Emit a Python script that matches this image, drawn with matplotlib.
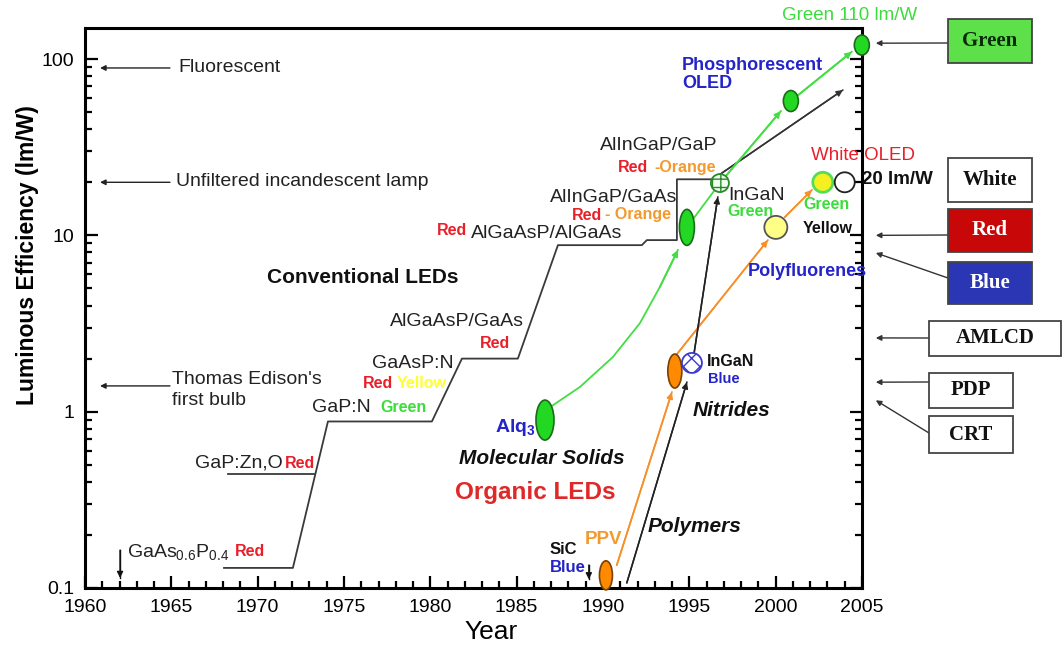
import matplotlib
matplotlib.use("Agg")
import matplotlib.pyplot as plt
import matplotlib.transforms as mtransforms
from matplotlib.patches import Ellipse, Rectangle
from matplotlib.ticker import MultipleLocator, LogLocator, FixedLocator, FixedFormatter, NullFormatter

plt.rcParams['font.family'] = ['Liberation Sans', 'DejaVu Sans']
plt.rcParams['mathtext.fontset'] = 'custom'
plt.rcParams['mathtext.rm'] = 'Liberation Sans'
plt.rcParams['mathtext.bf'] = 'Liberation Sans:bold'
plt.rcParams['hatch.linewidth'] = 1.0

# ---- data (year, luminous efficiency lm/W) ----
# conventional LED step line
led_year = [1968.05, 1972.04, 1974.07, 1980.09, 1981.83, 1985.07, 1987.39,
            1992.25, 1992.54, 1994.28, 1994.28, 1996.36]
led_eff = [0.13, 0.13, 0.88, 0.88, 2.0, 2.0, 8.8, 8.8, 9.4, 9.4, 20.8, 20.8]
gapzn_year = [1968.28, 1973.26]
gapzn_eff = [0.443, 0.443]
trend_year = [1996.36, 2003.89]
trend_eff = [20.8, 66.7]

# Alq3 molecular OLED curve
alq_year = [1986.93, 1988.66, 1990.57, 1992.14, 1993.29, 1994.34]
alq_eff = [1.06, 1.38, 2.04, 3.18, 5.09, 8.26]

# green line (solid state / phosphorescent)
green1_year = [1994.86, 1996.77, 2000.3]
green1_eff = [11.1, 19.8, 50.7]
green2_year = [2000.88, 2004.41]
green2_eff = [57.8, 110]

# polymers (orange)
ppv1_year = [1990.8, 1993.99]
ppv1_eff = [0.135, 1.29]
ppv2_year = [1994.28, 1999.55]
ppv2_eff = [2.12, 9.4]
ppv3_year = [2000.53, 2002.1]
ppv3_eff = [12.7, 18.1]

# nitrides (black)
nit1_year = [1991.38, 1994.86]
nit1_eff = [0.107, 1.47]
nit2_year = [1995.26, 1996.65]
nit2_eff = [2.10, 16.5]

sic_year = [1989.18, 1989.18]
sic_eff = [0.135, 0.112]
gaas_year = [1962.03, 1962.03]
gaas_eff = [0.164, 0.114]

# reference light sources on the left
ref_labels = ["Fluorescent", "Unfiltered incandescent lamp", "Thomas Edison's\nfirst bulb"]
ref_eff = [89, 20, 1.4]

# device marks
blob_year = [1986.64, 1994.86, 1996.77, 2000.88, 2004.99, 1990.17, 1994.16,
             1995.15, 2000.01, 2002.73, 2004.0]
blob_eff = [0.896, 11.1, 19.8, 57.8, 120, 0.118, 1.70, 1.89, 11.1, 20.0, 20.0]

# display technologies on the right
disp_labels = ["Green", "White", "Red", "Blue", "AMLCD", "PDP", "CRT"]
disp_eff = [123, None, 10.0, 7.95, 2.62, 1.47, 1.16]

x_ticks = [1960, 1965, 1970, 1975, 1980, 1985, 1990, 1995, 2000, 2005]
y_ticks = [0.1, 1, 10, 100]
y_ticklabels = ["0.1", "1", "10", "100"]

# ---- colours ----
RED = '#e8202a'
ORANGE = '#f39a2e'
GREEN_T = '#3ddc3d'
YELLOW = '#ffff30'
BLUE = '#2424c8'
LGREEN = '#44dd44'
LORANGE = '#f5902a'

W, H = 1063, 649
fig = plt.figure(figsize=(W / 100, H / 100), dpi=100)
ax = fig.add_axes([85 / W, 1 - 588 / H, 777 / W, 560 / H])
ax.set_yscale('log')
ax.set_xlim(1960, 2005)
ax.set_ylim(0.1, 150)


def px(x, y):
    return (x / W, 1 - y / H)


def arrow_line(xs, ys, color, lw=1.2, head=True):
    ax.plot(xs, ys, color=color, lw=lw, zorder=3, clip_on=False)
    if head:
        ax.annotate('', xy=(xs[-1], ys[-1]), xytext=(xs[-2], ys[-2]),
                    arrowprops=dict(arrowstyle='-|>', color=color, lw=lw,
                                    shrinkA=0, shrinkB=0, mutation_scale=9),
                    annotation_clip=False, zorder=3)


def blob(x, y, w, h, fc, ec, lw=1.2, hatch=None):
    tr = fig.dpi_scale_trans + mtransforms.ScaledTranslation(x, y, ax.transData)
    e = Ellipse((0, 0), w / 100, h / 100, transform=tr, facecolor=fc,
                edgecolor=ec, lw=lw, hatch=hatch, clip_on=False, zorder=5)
    ax.add_patch(e)


# step line
ax.plot(led_year, led_eff, color='#3a3a3a', lw=1.3, zorder=3)
ax.plot(gapzn_year, gapzn_eff, color='#3a3a3a', lw=1.3, zorder=3)
arrow_line(trend_year, trend_eff, '#333333', lw=1.1)

arrow_line(alq_year, alq_eff, LGREEN, lw=1.3)
arrow_line(green1_year, green1_eff, LGREEN, lw=1.3)
arrow_line(green2_year, green2_eff, LGREEN, lw=1.3)
arrow_line(ppv1_year, ppv1_eff, LORANGE, lw=1.2)
arrow_line(ppv2_year, ppv2_eff, LORANGE, lw=1.2)
arrow_line(ppv3_year, ppv3_eff, LORANGE, lw=1.2)
arrow_line(nit1_year, nit1_eff, '#222222', lw=1.1)
arrow_line(nit2_year, nit2_eff, '#222222', lw=1.1)
arrow_line(sic_year, sic_eff, '#111111', lw=1.0)
arrow_line(gaas_year, gaas_eff, '#111111', lw=1.0)

for v in ref_eff:
    ax.annotate('', xy=(1960.87, v), xytext=(1964.92, v),
                arrowprops=dict(arrowstyle='-|>', color='#222222', lw=1.0,
                                shrinkA=0, shrinkB=0, mutation_scale=8))

# blobs: (w, h, face, edge, lw, hatch)
blob_style = [
    (18, 40, '#22d822', '#1a6b1a', 1.2, None),
    (15, 36, '#22d822', '#1a6b1a', 1.2, None),
    (18, 18, '#f0fff0', '#2a8a2a', 1.3, '++'),
    (15, 21, '#22d822', '#1a6b1a', 1.2, None),
    (15, 20, '#22d822', '#1a6b1a', 1.2, None),
    (13, 29, '#ff8a00', '#7a4000', 1.2, None),
    (14, 34, '#ff8a00', '#7a4000', 1.2, None),
    (20, 20, 'white', '#3a3ad0', 1.3, 'xx'),
    (23, 23, '#ffff88', '#555555', 1.3, None),
    (20, 20, '#f5f020', '#55dd55', 2.0, None),
    (20, 20, 'white', '#222222', 1.3, None),
]
for x, y, st in zip(blob_year, blob_eff, blob_style):
    blob(x, y, st[0], st[1], st[2], st[3], lw=st[4], hatch=st[5])

# axes styling
for s in ax.spines.values():
    s.set_linewidth(2.2)
ax.xaxis.set_major_locator(FixedLocator(x_ticks))
ax.xaxis.set_minor_locator(MultipleLocator(1))
ax.yaxis.set_major_locator(FixedLocator(y_ticks))
ax.yaxis.set_major_formatter(FixedFormatter(y_ticklabels))
ax.yaxis.set_minor_locator(LogLocator(base=10, subs=range(2, 10)))
ax.yaxis.set_minor_formatter(NullFormatter())
ax.tick_params(which='both', direction='in', top=False, right=True, width=1.6)
ax.tick_params(which='major', length=9, labelsize=14)
ax.tick_params(which='minor', length=5)
ax.tick_params(axis='x', which='major', pad=8)
ax.tick_params(axis='y', which='major', pad=8)
ax.set_xlabel('Year', fontsize=19, va='center')
ax.xaxis.set_label_coords((491 - 85) / 777, -(632 - 588) / 560)
ax.set_ylabel('Luminous Efficiency (lm/W)', fontsize=16.5, fontweight='bold', va='center')
ax.yaxis.set_label_coords(-(85 - 28) / 777, (588 - 255) / 560)

# reference labels
fig.text(*px(178, 68), ref_labels[0], fontsize=14, va='center', color='#222')
fig.text(*px(176, 182), ref_labels[1], fontsize=14, va='center', color='#222')
fig.text(*px(172, 390), ref_labels[2], fontsize=14, va='center', color='#222',
         linespacing=1.25)

# annotation texts: (x, y, text, color, size, weight, style)
notes = [
    (127, 553, r'GaAs$_{0.6}$P$_{0.4}$', '#222', 14, 'normal', 'normal'),
    (235, 552, 'Red', RED, 11.5, 'bold', 'normal'),
    (195, 463, 'GaP:Zn,O', '#222', 14, 'normal', 'normal'),
    (285, 463, 'Red', RED, 11.5, 'bold', 'normal'),
    (312, 408, 'GaP:N', '#222', 14, 'normal', 'normal'),
    (380, 408, 'Green', GREEN_T, 11.5, 'bold', 'normal'),
    (372, 364, 'GaAsP:N', '#222', 14, 'normal', 'normal'),
    (363, 383, 'Red', RED, 11.5, 'bold', 'normal'),
    (397, 383, 'Yellow', YELLOW, 11.5, 'bold', 'normal'),
    (390, 322, 'AlGaAsP/GaAs', '#222', 14, 'normal', 'normal'),
    (480, 344, 'Red', RED, 11.5, 'bold', 'normal'),
    (267, 277, 'Conventional LEDs', '#111', 15, 'bold', 'normal'),
    (437, 231, 'Red', RED, 11.5, 'bold', 'normal'),
    (471, 233, 'AlGaAsP/AlGaAs', '#222', 14, 'normal', 'normal'),
    (550, 197, 'AlInGaP/GaAs', '#222', 14, 'normal', 'normal'),
    (572, 215, 'Red', RED, 11.5, 'bold', 'normal'),
    (605, 215, '- Orange', ORANGE, 11.5, 'bold', 'normal'),
    (600, 145, 'AlInGaP/GaP', '#222', 14, 'normal', 'normal'),
    (618, 167, 'Red', RED, 11.5, 'bold', 'normal'),
    (654, 167, '-Orange', ORANGE, 11.5, 'bold', 'normal'),
    (728, 196, 'InGaN', '#222', 14, 'normal', 'normal'),
    (727, 211, 'Green', GREEN_T, 11.5, 'bold', 'normal'),
    (682, 66, 'Phosphorescent', BLUE, 13, 'bold', 'normal'),
    (682, 83, 'OLED', BLUE, 13, 'bold', 'normal'),
    (782, 15, 'Green 110 lm/W', GREEN_T, 13.5, 'normal', 'normal'),
    (811, 155, 'White OLED', RED, 13.5, 'normal', 'normal'),
    (862, 180, '20 lm/W', '#111', 13.5, 'bold', 'normal'),
    (803, 204, 'Green', GREEN_T, 11.5, 'bold', 'normal'),
    (803, 228, 'Yellow', '#111', 11.5, 'bold', 'normal'),
    (748, 271, 'Polyfluorenes', BLUE, 13, 'bold', 'normal'),
    (707, 362, 'InGaN', '#111', 11.5, 'bold', 'normal'),
    (708, 379, 'Blue', BLUE, 10.5, 'bold', 'normal'),
    (693, 410, 'Nitrides', '#111', 15, 'bold', 'italic'),
    (495, 427, r'Alq$_\mathbf{3}$', BLUE, 14, 'bold', 'normal'),
    (459, 459, 'Molecular Solids', '#111', 15, 'bold', 'italic'),
    (455, 493, 'Organic LEDs', '#e02828', 17.5, 'bold', 'normal'),
    (648, 527, 'Polymers', '#111', 15, 'bold', 'italic'),
    (585, 540, 'PPV', ORANGE, 13.5, 'bold', 'normal'),
    (550, 550, 'SiC', '#111', 12, 'bold', 'normal'),
    (550, 567, 'Blue', BLUE, 12, 'bold', 'normal'),
]
for x, y, t, c, s, w, st in notes:
    fig.text(*px(x, y), t, color=c, fontsize=s, fontweight=w, fontstyle=st,
             va='center', ha='left', zorder=6)

# display technology boxes: (left, top, width, height, face, text colour)
box_geom = [
    (948, 19, 84, 44, '#5ee04a', '#0a2a0a'),
    (948, 158, 84, 44, 'white', '#111'),
    (948, 209, 84, 43, '#c80808', 'white'),
    (948, 262, 84, 42, '#2a36b4', 'white'),
    (929, 321, 132, 35, 'white', '#111'),
    (929, 373, 84, 35, 'white', '#111'),
    (929, 416, 84, 37, 'white', '#111'),
]
arrow_tail_y = [43, None, 235, 278, 338, 382, 433]
for lab, val, g, ty in zip(disp_labels, disp_eff, box_geom, arrow_tail_y):
    x0, y0, bw, bh, fc, tc = g
    fig.add_artist(Rectangle((x0 / W, 1 - (y0 + bh) / H), bw / W, bh / H,
                             transform=fig.transFigure, facecolor=fc,
                             edgecolor='#444', lw=1.3))
    fig.text(*px(x0 + bw / 2, y0 + bh / 2), lab, family='Liberation Serif',
             fontweight='bold', fontsize=15, color=tc, ha='center', va='center')
    if val is not None:
        ax.annotate('', xy=(2005.8, val), xycoords='data',
                    xytext=px(x0, ty), textcoords='figure fraction',
                    arrowprops=dict(arrowstyle='-|>', color='#333', lw=1.0,
                                    shrinkA=0, shrinkB=0, mutation_scale=8),
                    annotation_clip=False)

fig.savefig('out.png', dpi=100)
